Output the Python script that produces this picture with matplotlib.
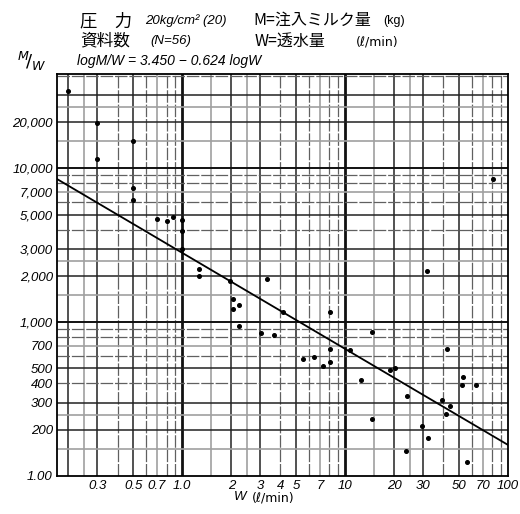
import numpy as np
import matplotlib
matplotlib.use("Agg")
import matplotlib.pyplot as plt

plt.rcParams['font.family'] = ['Liberation Sans', 'Noto Sans CJK JP', 'DejaVu Sans']

# Observed pairs: W (l/min) and M/W
w_vals = [0.2, 0.3, 0.3, 0.5, 0.5, 0.5, 0.7, 0.8, 0.88, 1.0,
          1.0, 1.0, 1.27, 1.27, 1.97, 2.06, 2.06, 2.24, 2.22, 3.33,
          4.13, 3.05, 3.66, 8.1, 5.51, 6.44, 7.34, 8.04, 8.04, 10.7,
          12.56, 14.7, 18.9, 20.2, 24.1, 14.7, 42.0, 39.2, 44.0, 41.4,
          29.5, 32.1, 23.5, 52.9, 52.4, 63.9, 55.8, 80.5, 31.7]
mw_vals = [32000, 19600, 11500, 15000, 7400, 6200, 4650, 4560, 4800, 4600,
           3900, 3000, 2200, 2000, 1845, 1416, 1219, 1286, 949, 1912,
           1165, 850, 825, 1165, 576, 596, 521, 669, 551, 662,
           418, 858, 490, 505, 330, 235, 669, 313, 286, 252,
           212, 177, 146, 440, 393, 393, 123, 8480, 2150]

# Regression: log M/W = 3.450 - 0.624 log W
coef_a = 3.450
coef_b = -0.624

x_ticks = [0.3, 0.5, 0.7, 1.0, 2, 3, 4, 5, 7, 10, 20, 30, 50, 70, 100]
x_tick_labels = ["0.3", "0.5", "0.7", "1.0", "2", "3", "4", "5", "7", "10",
                 "20", "30", "50", "70", "100"]
y_ticks = [100, 200, 300, 400, 500, 700, 1000, 2000, 3000, 5000, 7000, 10000, 20000]
y_tick_labels = ["1.00", "200", "300", "400", "500", "700", "1,000", "2,000",
                 "3,000", "5,000", "7,000", "10,000", "20,000"]

x_lim = (0.17, 100)
y_lim = (100, 41000)

W, H = 520, 514
fig = plt.figure(figsize=(W / 100, H / 100), dpi=100)
left, right, top, bottom = 57, 508, 74, 476
ax = fig.add_axes([left / W, 1 - bottom / H, (right - left) / W, (bottom - top) / H])
ax.set_xscale('log')
ax.set_yscale('log')
ax.set_xlim(*x_lim)
ax.set_ylim(*y_lim)

# Log graph-paper ruling
mantissas = [1, 1.5, 2, 2.5, 3, 4, 5, 6, 7, 8, 9]
def rule_style(m, vertical):
    if m == 1:
        return dict(color='#111111', lw=2.0 if vertical else 1.4)
    if m in (2, 3, 5):
        return dict(color='#222222', lw=1.1)
    if m in (1.5, 2.5, 7):
        return dict(color='#a0a0a0', lw=1.2)
    return dict(color='#606060', lw=0.9, ls=(0, (10, 1.5)))

for k in range(-1, 3):
    for m in mantissas:
        v = m * 10.0 ** k
        if x_lim[0] < v < x_lim[1]:
            ax.axvline(v, zorder=1, **rule_style(m, True))
for k in range(2, 5):
    for m in mantissas:
        v = m * 10.0 ** k
        if y_lim[0] < v < y_lim[1]:
            ax.axhline(v, zorder=1, **rule_style(m, False))

# Regression line
wl = np.logspace(np.log10(x_lim[0]), np.log10(x_lim[1]), 200)
ax.plot(wl, 10 ** (coef_a + coef_b * np.log10(wl)), color='black', lw=1.3, zorder=3)

# Observations
ax.plot(w_vals, mw_vals, 'o', color='black', ms=2.6, zorder=4)

for s in ax.spines.values():
    s.set_color('black')
    s.set_linewidth(1.3)

tick_font = dict(fontsize=9.5, fontstyle='italic')
ax.set_xticks(x_ticks)
ax.set_xticklabels(x_tick_labels, **tick_font)
ax.set_yticks(y_ticks)
ax.set_yticklabels(y_tick_labels, **tick_font)
ax.minorticks_off()
ax.tick_params(length=0, pad=3)

cjk = ['Noto Sans CJK JP', 'DejaVu Sans']
# Header text
fig.text(80 / W, 1 - 21 / H, "圧　力", fontsize=12.5, va='center', family=cjk)
fig.text(145 / W, 1 - 21 / H, "20kg/cm² (20)", fontsize=9.5, fontstyle='italic', va='center')
fig.text(253 / W, 1 - 20 / H, "M=注入ミルク量", fontsize=11.5, va='center', family=cjk)
fig.text(383 / W, 1 - 21 / H, "(kg)", fontsize=9, va='center')
fig.text(80 / W, 1 - 41 / H, "資料数", fontsize=12, va='center', family=cjk)
fig.text(150 / W, 1 - 41 / H, "(N=56)", fontsize=9.5, fontstyle='italic', va='center')
fig.text(255 / W, 1 - 41 / H, "W=透水量", fontsize=11.5, va='center', family=cjk)
fig.text(356 / W, 1 - 42 / H, "(ℓ/min)", fontsize=9, va='center', family=['DejaVu Sans'])
fig.text(77 / W, 1 - 61 / H, "logM/W = 3.450 − 0.624 logW", fontsize=10,
         fontstyle='italic', va='center')
fig.text(17 / W, 1 - 61 / H, r"$^{M}\!/_{W}$", fontsize=13, va='center')
fig.text(234 / W, 1 - 497 / H, "W", fontsize=9.5, fontstyle='italic', va='center')
fig.text(252 / W, 1 - 498 / H, "(ℓ/min)", fontsize=9, va='center', family=['DejaVu Sans'])

fig.savefig("out.png", dpi=100, facecolor='white')
